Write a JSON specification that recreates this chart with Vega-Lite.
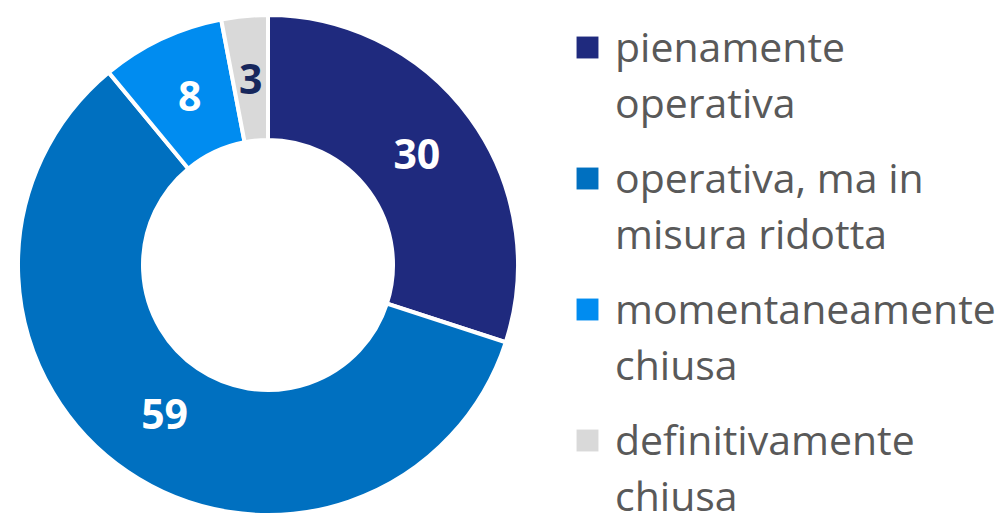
{
  "$schema": "https://vega.github.io/schema/vega-lite/v6.json",
  "width": 536,
  "height": 500,
  "autosize": "none",
  "padding": {"left": 0, "top": 15, "right": 471, "bottom": 1},
  "background": "white",
  "view": {"stroke": null},
  "data": {"values": [
    {"cat": "pienamente operativa", "v": 30, "idx": 1},
    {"cat": "operativa, ma in misura ridotta", "v": 59, "idx": 2},
    {"cat": "momentaneamente chiusa", "v": 8, "idx": 3},
    {"cat": "definitivamente chiusa", "v": 3, "idx": 4}
  ]},
  "encoding": {
    "theta": {"field": "v", "type": "quantitative", "stack": true},
    "order": {"field": "idx", "type": "quantitative"}
  },
  "layer": [
    {
      "mark": {"type": "arc", "outerRadius": 250, "innerRadius": 125, "stroke": "white", "strokeWidth": 4},
      "encoding": {
        "color": {
          "field": "cat", "type": "nominal",
          "sort": ["pienamente operativa", "operativa, ma in misura ridotta", "momentaneamente chiusa", "definitivamente chiusa"],
          "scale": {
            "domain": ["pienamente operativa", "operativa, ma in misura ridotta", "momentaneamente chiusa", "definitivamente chiusa"],
            "range": ["#1F2A7E", "#0070C0", "#008CF0", "#D9D9D9"]
          },
          "legend": {
            "title": null,
            "orient": "none",
            "legendX": 567,
            "legendY": 12,
            "padding": 0,
            "symbolType": "square",
            "symbolSize": 480,
            "symbolStrokeWidth": 0,
            "labelFont": "Open Sans",
            "labelFontSize": 41,
            "labelColor": "#595959",
            "labelLimit": 500,
            "labelOffset": 7,
            "labelBaseline": "alphabetic",
            "rowPadding": 32,
            "labelExpr": "datum.label == 'pienamente operativa' ? ['pienamente','operativa'] : datum.label == 'operativa, ma in misura ridotta' ? ['operativa, ma in','misura ridotta'] : datum.label == 'momentaneamente chiusa' ? ['momentaneamente','chiusa'] : ['definitivamente','chiusa']",
            "encoding": {
              "labels": {"lineHeight": {"value": 56}, "dy": {"value": 14}}
            }
          }
        }
      }
    },
    {
      "mark": {"type": "text", "radius": 184, "font": "Open Sans", "fontWeight": "bold", "fontSize": 41},
      "encoding": {
        "text": {"field": "v", "type": "quantitative"},
        "color": {"condition": {"test": "datum.v < 5", "value": "#17275C"}, "value": "white"}
      }
    }
  ]
}
